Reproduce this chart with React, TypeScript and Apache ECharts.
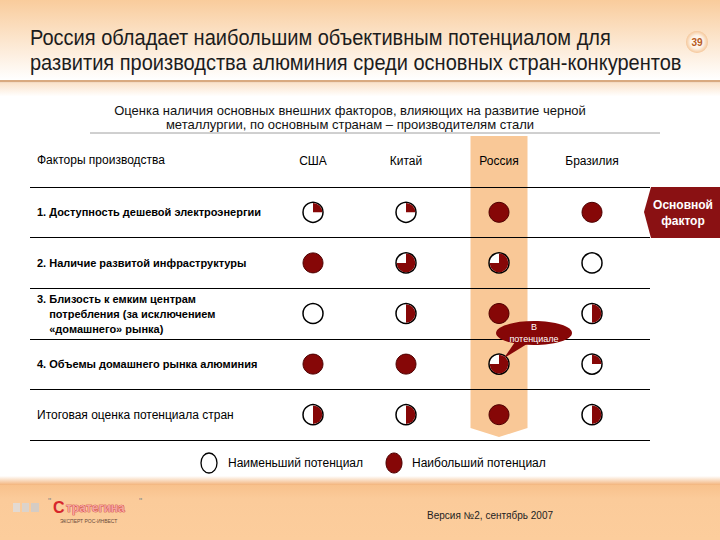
import React, { useEffect, useRef } from 'react';
import * as echarts from 'echarts';

const countries = ['США', 'Китай', 'Россия', 'Бразилия'];
const factors = [
  '1. Доступность дешевой электроэнергии',
  '2. Наличие развитой инфраструктуры',
  '3. Близость к емким центрам\n\u00A0\u00A0\u00A0\u00A0потребления (за исключением\n\u00A0\u00A0\u00A0\u00A0«домашнего» рынка)',
  '4. Объемы домашнего рынка алюминия',
  'Итоговая оценка потенциала стран',
];
// Harvey-ball scores in quarters (0 = empty, 4 = full), one entry per factor
const usaScores = [1, 4, 0, 4, 2];
const chinaScores = [1, 3, 2, 4, 2];
const russiaScores = [4, 3, 4, 3, 4];
const brazilScores = [4, 0, 2, 1, 2];

const titleLines = [
  'Россия обладает наибольшим объективным потенциалом для',
  'развития производства алюминия среди основных стран-конкурентов',
];
const subtitleLines = [
  'Оценка наличия основных внешних факторов, влияющих на развитие черной',
  'металлургии, по основным странам – производителям стали',
];
const headerLabel = 'Факторы производства';
const legendLabels = ['Наименьший потенциал', 'Наибольший потенциал'];
const keyFactorLabel = 'Основной\nфактор';
const potentialNote = 'В\nпотенциале';
const pageNumber = '39';
const versionLabel = 'Версия №2, сентябрь 2007';
const logoMain = 'тратегина';
const logoSub = 'ЭКСПЕРТ РОС-ИНВЕСТ';

const RED = '#860707';
const FONT = "'Liberation Sans', Arial, sans-serif";

export default function App() {
  const ref = useRef<HTMLDivElement>(null);

  useEffect(() => {
    const el = ref.current!;
    const chart = echarts.init(el, undefined, { renderer: 'svg' });
    const scoreSets = [usaScores, chinaScores, russiaScores, brazilScores];
    const ballData: number[][] = [];
    scoreSets.forEach((arr, c) => arr.forEach((q, r) => ballData.push([c, r, q])));

    const gridTop = 187;
    const gridBottom = 100;

    chart.setOption({
      animation: false,
      backgroundColor: '#ffffff',
      grid: [
        { left: 266.5, right: 81.5, top: gridTop, bottom: gridBottom },
        { left: 30, right: 70, top: gridTop, bottom: gridBottom },
      ],
      xAxis: [
        {
          gridIndex: 0,
          type: 'category',
          position: 'top',
          data: countries,
          axisLine: { show: false },
          axisTick: { show: false },
          splitLine: { show: false },
          axisLabel: { margin: 20, fontSize: 12, color: '#000', fontFamily: FONT, interval: 0 },
        },
        { gridIndex: 1, type: 'value', show: false, min: 0, max: 1 },
      ],
      yAxis: [
        { gridIndex: 0, type: 'category', data: factors, inverse: true, show: false },
        {
          gridIndex: 1,
          type: 'category',
          data: factors,
          inverse: true,
          axisLine: { show: false },
          axisTick: { show: false },
          splitLine: { show: true, interval: 0, lineStyle: { color: '#000', width: 1.2 } },
          axisLabel: {
            inside: true,
            margin: 7,
            interval: 0,
            color: '#000',
            fontFamily: FONT,
            formatter: (value: string, index: number) =>
              index < 4 ? `{b|${value}}` : `{n|${value}}`,
            rich: {
              b: { fontWeight: 'bold', fontSize: 11, lineHeight: 15, fontFamily: FONT, color: '#000' },
              n: { fontSize: 12, fontFamily: FONT, color: '#000' },
            },
          },
        },
      ],
      series: [
        {
          type: 'custom',
          xAxisIndex: 0,
          yAxisIndex: 0,
          z: 5,
          data: ballData,
          encode: { x: 0, y: 1 },
          renderItem: (params: any, api: any) => {
            const p = api.coord([api.value(0), api.value(1)]);
            const q = api.value(2);
            const r = 10;
            if (q >= 4) {
              return {
                type: 'circle',
                shape: { cx: p[0], cy: p[1], r },
                style: { fill: RED, stroke: '#4d0000', lineWidth: 1 },
              };
            }
            const children: any[] = [
              {
                type: 'circle',
                shape: { cx: p[0], cy: p[1], r },
                style: { fill: '#fff', stroke: '#000', lineWidth: 1.5 },
              },
            ];
            if (q > 0) {
              children.push({
                type: 'sector',
                shape: {
                  cx: p[0],
                  cy: p[1],
                  r0: 0,
                  r: r - 0.7,
                  startAngle: -Math.PI / 2,
                  endAngle: -Math.PI / 2 + (q * Math.PI) / 2,
                  clockwise: true,
                },
                style: { fill: RED },
              });
            }
            return { type: 'group', children };
          },
        },
      ],
    });

    const russiaIdx = countries.indexOf('Россия');
    const [bx] = chart.convertToPixel({ gridIndex: 0 }, [russiaIdx, 0]) as number[];
    const [px, py] = chart.convertToPixel({ gridIndex: 0 }, [russiaIdx, 3]) as number[];
    const bandW = 28.5;

    chart.setOption({
      graphic: [
        // header gradient
        {
          type: 'rect', z: -3, silent: true,
          shape: { x: 0, y: 0, width: 720, height: 80 },
          style: {
            fill: new echarts.graphic.LinearGradient(0, 0, 0, 1, [
              { offset: 0, color: '#F9CC9C' },
              { offset: 1, color: '#FFFFFF' },
            ]),
          },
        },
        { type: 'rect', z: -3, shape: { x: 0, y: 80, width: 720, height: 2.5 }, style: { fill: '#D9AA80' } },
        {
          type: 'rect', z: -3,
          shape: { x: 0, y: 82.5, width: 720, height: 14 },
          style: {
            fill: new echarts.graphic.LinearGradient(0, 0, 0, 1, [
              { offset: 0, color: '#FBE2C8' },
              { offset: 1, color: '#FFFFFF' },
            ]),
          },
        },
        // footer
        {
          type: 'rect', z: -3,
          shape: { x: 0, y: 476, width: 720, height: 9 },
          style: {
            fill: new echarts.graphic.LinearGradient(0, 0, 0, 1, [
              { offset: 0, color: '#FFFFFF' },
              { offset: 1, color: '#F3B47C' },
            ]),
          },
        },
        {
          type: 'rect', z: -3,
          shape: { x: 0, y: 485, width: 720, height: 55 },
          style: {
            fill: new echarts.graphic.LinearGradient(0, 0, 0, 1, [
              { offset: 0, color: '#F8C18C' },
              { offset: 0.25, color: '#FBCB9A' },
              { offset: 1, color: '#FCCD9C' },
            ]),
          },
        },
        // Russia highlight band
        {
          type: 'polygon', z: -1,
          shape: {
            points: [
              [bx - bandW, 136],
              [bx + bandW, 136],
              [bx + bandW, 428],
              [bx, 437],
              [bx - bandW, 428],
            ],
          },
          style: { fill: '#F9C897' },
        },
        // title (condensed horizontally like the narrow original face)
        {
          type: 'text', x: 30, y: 37, scaleX: 0.91,
          style: { text: titleLines[0], fontSize: 22, fontFamily: FONT, fill: '#1c1c1c', verticalAlign: 'middle' },
        },
        {
          type: 'text', x: 30, y: 62, scaleX: 0.91,
          style: { text: titleLines[1], fontSize: 22, fontFamily: FONT, fill: '#1c1c1c', verticalAlign: 'middle' },
        },
        // page number
        {
          type: 'circle', z: 1,
          shape: { cx: 697, cy: 42, r: 11 },
          style: {
            fill: new echarts.graphic.RadialGradient(0.5, 0.5, 0.5, [
              { offset: 0, color: '#FFFFFF' },
              { offset: 0.6, color: '#FDF1E4' },
              { offset: 1, color: '#F5C79A' },
            ]),
          },
        },
        {
          type: 'text', x: 697, y: 42, z: 2,
          style: { text: pageNumber, fontSize: 10, fontWeight: 'bold', fontFamily: FONT, fill: '#B85A1C', align: 'center', verticalAlign: 'middle' },
        },
        // subtitle
        {
          type: 'text', x: 350, y: 110,
          style: { text: subtitleLines[0], fontSize: 13, fontFamily: FONT, fill: '#111', align: 'center', verticalAlign: 'middle' },
        },
        {
          type: 'text', x: 350, y: 124,
          style: { text: subtitleLines[1], fontSize: 13, fontFamily: FONT, fill: '#111', align: 'center', verticalAlign: 'middle' },
        },
        { type: 'line', shape: { x1: 90, y1: 133, x2: 660, y2: 133 }, style: { stroke: '#a0a0a0', lineWidth: 1 } },
        // header label
        {
          type: 'text', x: 37, y: 160,
          style: { text: headerLabel, fontSize: 12, fontFamily: FONT, fill: '#000', verticalAlign: 'middle' },
        },
        // key factor marker
        {
          type: 'polygon', z: 10,
          shape: { points: [[651, 187], [644, 212], [651, 238], [720, 238], [720, 187]] },
          style: { fill: '#8A1113' },
        },
        {
          type: 'text', x: 683, y: 213, z: 11,
          style: { text: keyFactorLabel, fontSize: 12, lineHeight: 16, fontWeight: 'bold', fontFamily: FONT, fill: '#fff', align: 'center', verticalAlign: 'middle' },
        },
        // "in potential" callout
        {
          type: 'polygon', z: 10,
          shape: { points: [[px + 16, py - 22], [px + 28, py - 20], [px + 5, py - 6]] },
          style: { fill: RED },
        },
        {
          type: 'ellipse', z: 10,
          shape: { cx: px + 35, cy: py - 31, rx: 38, ry: 12 },
          style: { fill: RED },
        },
        {
          type: 'text', x: px + 35, y: py - 31, z: 11,
          style: { text: potentialNote, fontSize: 9, lineHeight: 12, fontFamily: FONT, fill: '#fff', align: 'center', verticalAlign: 'middle' },
        },
        // legend
        {
          type: 'ellipse',
          shape: { cx: 209, cy: 463, rx: 8, ry: 10 },
          style: { fill: '#fff', stroke: '#000', lineWidth: 1.3 },
        },
        {
          type: 'text', x: 228, y: 463,
          style: { text: legendLabels[0], fontSize: 12, fontFamily: FONT, fill: '#000', verticalAlign: 'middle' },
        },
        {
          type: 'ellipse',
          shape: { cx: 394, cy: 463, rx: 8, ry: 10 },
          style: { fill: RED, stroke: '#4d0000', lineWidth: 1 },
        },
        {
          type: 'text', x: 412, y: 463,
          style: { text: legendLabels[1], fontSize: 12, fontFamily: FONT, fill: '#000', verticalAlign: 'middle' },
        },
        // logo
        { type: 'rect', shape: { x: 13, y: 503, width: 7, height: 9 }, style: { fill: '#E3DAD2' } },
        { type: 'rect', shape: { x: 22, y: 503, width: 7, height: 9 }, style: { fill: '#DCD3CB' } },
        { type: 'rect', shape: { x: 31, y: 503, width: 8, height: 9 }, style: { fill: '#D5CCC4' } },
        {
          type: 'text', x: 48, y: 501,
          style: { text: '"', fontSize: 9, fontFamily: FONT, fill: '#888', verticalAlign: 'middle' },
        },
        {
          type: 'text', x: 53, y: 507,
          style: { text: 'С', fontSize: 16, fontWeight: 'bold', fontFamily: FONT, fill: '#D6262B', verticalAlign: 'middle' },
        },
        {
          type: 'text', x: 66, y: 508,
          style: { text: logoMain, fontSize: 12, fontWeight: 'bold', fontFamily: FONT, fill: '#F4A4A0', stroke: '#C8262C', lineWidth: 0.7, verticalAlign: 'middle' },
        },
        {
          type: 'text', x: 139, y: 501,
          style: { text: '"', fontSize: 9, fontFamily: FONT, fill: '#888', verticalAlign: 'middle' },
        },
        {
          type: 'text', x: 60, y: 521,
          style: { text: logoSub, fontSize: 5, fontFamily: FONT, fill: '#6a4a3a', verticalAlign: 'middle' },
        },
        // version
        {
          type: 'text', x: 427, y: 515,
          style: { text: versionLabel, fontSize: 10, fontFamily: FONT, fill: '#222', verticalAlign: 'middle' },
        },
      ],
    });

    return () => chart.dispose();
  }, []);

  return (
    <div
      ref={ref}
      style={{ position: 'absolute', left: 0, top: 0, width: 720, height: 540 }}
    />
  );
}
